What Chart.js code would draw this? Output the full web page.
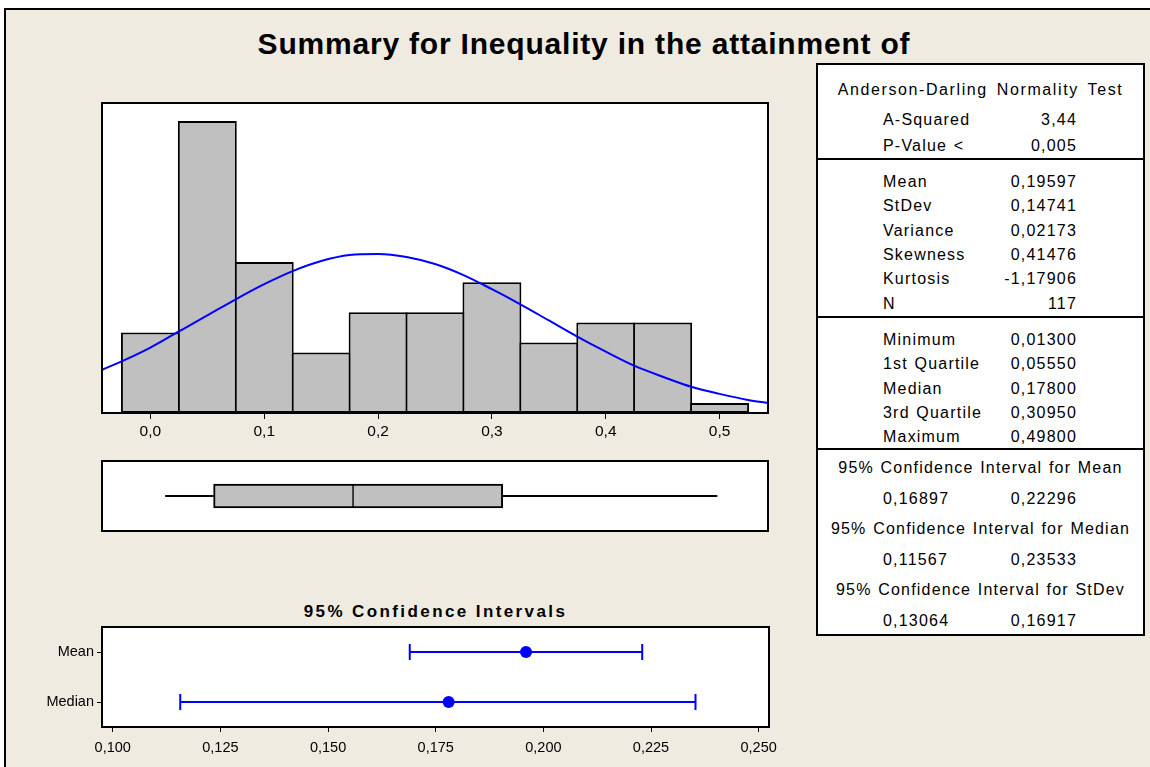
<!DOCTYPE html>
<html>
<head>
<meta charset="utf-8">
<script src="https://cdn.jsdelivr.net/npm/chart.js@4.4.1/dist/chart.umd.min.js"></script>
<style>
  body { margin: 0; width: 1150px; height: 767px; overflow: hidden; background: #fff; position: relative;
         font-family: 'Liberation Sans', Arial, sans-serif; color: #000; }
  #frame { position: absolute; left: 4px; top: 8px; width: 1170px; height: 780px; background: #EFEBE1;
           border-left: 2px solid #000; border-top: 2px solid #000; }
  canvas { position: absolute; left: 0; top: 0; }
  .txt { position: absolute; white-space: pre; }
  #title { left: 0; width: 1168px; top: 29px; text-align: center; font-weight: bold; font-size: 30px;
           line-height: 30px; letter-spacing: 0.8px; }
  #ciTitle { left: 102px; width: 667px; top: 602px; text-align: center; font-weight: bold; font-size: 17px;
             line-height: 20px; letter-spacing: 2.4px; }
  #stats { position: absolute; left: 816px; top: 63px; width: 329px; height: 573px; box-sizing: border-box;
           border: 2px solid #000; background: #fff; }
  .sep { position: absolute; left: 816px; width: 329px; height: 2px; background: #000; }
  .row { font-size: 16px; line-height: 20px; letter-spacing: 1.2px; word-spacing: 1px; }
  .head { letter-spacing: 1.6px; word-spacing: 3px; }
</style>
</head>
<body>
<div id="frame"></div>
<div id="title" class="txt">Summary for Inequality in the attainment of</div>
<div id="ciTitle" class="txt">95% Confidence Intervals</div>
<div id="stats"></div>
<script>
// histogram: bin centres (width 0.05) and counts
const binCenters = [0.00, 0.05, 0.10, 0.15, 0.20, 0.25, 0.30, 0.35, 0.40, 0.45, 0.50];
const binCounts = [8, 29, 15, 6, 10, 10, 13, 7, 9, 9, 1];
// fitted normal curve
const curveX = [-0.0425, -0.02, 0.0, 0.025, 0.05, 0.075, 0.1, 0.125, 0.15, 0.175, 0.2, 0.225, 0.25,
                0.275, 0.3, 0.325, 0.35, 0.375, 0.4, 0.425, 0.45, 0.475, 0.5, 0.525, 0.5425];
const curveY = [4.3, 5.4, 6.5, 8.1, 9.7, 11.3, 12.8, 14.1, 15.1, 15.7, 15.8, 15.5, 14.8,
                13.7, 12.3, 10.8, 9.2, 7.6, 6.1, 4.7, 3.6, 2.6, 1.9, 1.3, 1.0];
const histTicks = [0.0, 0.1, 0.2, 0.3, 0.4, 0.5];

// boxplot: min, q1, median, q3, max
const boxStats = [0.013, 0.0555, 0.178, 0.3095, 0.498];

// 95% confidence intervals
const ciLabels = ['Mean', 'Median'];
const ciCenter = [0.19597, 0.178];
const ciLow = [0.16897, 0.11567];
const ciHigh = [0.22296, 0.23533];
const ciTicks = [0.100, 0.125, 0.150, 0.175, 0.200, 0.225, 0.250];

// summary table
const adTitle = 'Anderson-Darling Normality Test';
const adRows = [['A-Squared', '3,44'], ['P-Value <', '0,005']];
const descRows = [['Mean', '0,19597'], ['StDev', '0,14741'], ['Variance', '0,02173'],
                  ['Skewness', '0,41476'], ['Kurtosis', '-1,17906'], ['N', '117']];
const quartRows = [['Minimum', '0,01300'], ['1st Quartile', '0,05550'], ['Median', '0,17800'],
                   ['3rd Quartile', '0,30950'], ['Maximum', '0,49800']];
const ciRows = [['95% Confidence Interval for Mean', '0,16897', '0,22296'],
                ['95% Confidence Interval for Median', '0,11567', '0,23533'],
                ['95% Confidence Interval for StDev', '0,13064', '0,16917']];

// ---- table text ----
function addText(str, css, extra) {
  const d = document.createElement('div');
  d.className = 'txt row' + (extra ? ' ' + extra : '');
  d.textContent = str;
  Object.assign(d.style, css);
  document.body.appendChild(d);
}
function labelRow(pair, cy) {
  addText(pair[0], { left: '883px', top: (cy - 10) + 'px' });
  addText(pair[1], { right: '73px', top: (cy - 10) + 'px', textAlign: 'right' });
}
function centerRow(str, cy, extra) {
  addText(str, { left: '816px', width: '329px', top: (cy - 10) + 'px', textAlign: 'center' }, extra);
}
centerRow(adTitle, 90, 'head');
adRows.forEach((r, i) => labelRow(r, 120 + i * 26));
descRows.forEach((r, i) => labelRow(r, 182 + i * 24.3));
quartRows.forEach((r, i) => labelRow(r, 340 + i * 24.3));
ciRows.forEach((r, i) => {
  const y = 468 + i * 61;
  centerRow(r[0], y);
  addText(r[1], { left: '883px', top: (y + 31 - 10) + 'px' });
  addText(r[2], { right: '73px', top: (y + 31 - 10) + 'px', textAlign: 'right' });
});
[158, 316, 448].forEach(y => {
  const s = document.createElement('div');
  s.className = 'sep';
  s.style.top = y + 'px';
  document.body.appendChild(s);
});

// ---- charts ----
Chart.defaults.font.family = "'Liberation Sans', Arial, sans-serif";
Chart.defaults.color = '#000';

const framePlugin = {
  id: 'frame',
  beforeDraw(chart) {
    const a = chart.chartArea, ctx = chart.ctx;
    ctx.save();
    ctx.fillStyle = '#fff';
    ctx.fillRect(a.left, a.top, a.right - a.left, a.bottom - a.top);
    ctx.restore();
  },
  afterDraw(chart) {
    const a = chart.chartArea, ctx = chart.ctx;
    ctx.save();
    ctx.strokeStyle = '#000';
    ctx.lineWidth = 2;
    ctx.strokeRect(a.left, a.top, a.right - a.left, a.bottom - a.top);
    ctx.restore();
  }
};

function makeCanvas() {
  const c = document.createElement('canvas');
  c.width = 1150;
  c.height = 767;
  document.body.appendChild(c);
  return c;
}

const baseOpts = {
  responsive: false,
  animation: false,
  devicePixelRatio: 1,
  plugins: { legend: { display: false }, tooltip: { enabled: false } }
};

// histogram with normal fit
new Chart(makeCanvas(), {
  type: 'bar',
  data: {
    datasets: [
      {
        type: 'line',
        data: curveX.map((x, i) => ({ x: x, y: curveY[i] })),
        borderColor: '#0000FF',
        borderWidth: 2,
        pointRadius: 0,
        cubicInterpolationMode: 'monotone',
        order: 0
      },
      {
        type: 'bar',
        data: binCenters.map((x, i) => ({ x: x, y: binCounts[i] })),
        backgroundColor: '#C0C0C0',
        borderColor: '#000',
        borderWidth: 2,
        borderSkipped: false,
        barPercentage: 1.035,
        categoryPercentage: 1,
        order: 1
      }
    ]
  },
  options: {
    ...baseOpts,
    layout: { padding: { left: 102, right: 382, top: 103, bottom: 324 } },
    scales: {
      x: {
        type: 'linear', min: -0.0425, max: 0.5425, offset: false,
        afterBuildTicks: s => { s.ticks = histTicks.map(v => ({ value: v })); },
        afterFit: s => { s.height = 30; },
        grid: { offset: false, drawOnChartArea: false, drawTicks: true, tickLength: 6, color: '#000' },
        border: { display: false },
        ticks: { callback: v => v.toFixed(1).replace('.', ','), font: { size: 15.5 }, padding: 3,
                 maxRotation: 0, autoSkip: false }
      },
      y: { display: false, min: 0, max: 30.8 }
    }
  },
  plugins: [framePlugin]
});

// boxplot
const boxBar = {
  type: 'bar', indexAxis: 'y', backgroundColor: '#C0C0C0', borderColor: '#000',
  borderSkipped: false, barThickness: 24, grouped: false
};
const whisker = { type: 'line', borderColor: '#000', borderWidth: 2, pointRadius: 0 };
new Chart(makeCanvas(), {
  type: 'bar',
  data: {
    datasets: [
      { ...boxBar, borderWidth: { left: 2, right: 1, top: 2, bottom: 2 },
        data: [{ x: [boxStats[1], boxStats[2]], y: 0 }] },
      { ...boxBar, borderWidth: { left: 1, right: 2, top: 2, bottom: 2 },
        data: [{ x: [boxStats[2], boxStats[3]], y: 0 }] },
      { ...whisker, data: [{ x: boxStats[0], y: 0 }, { x: boxStats[1], y: 0 }] },
      { ...whisker, data: [{ x: boxStats[3], y: 0 }, { x: boxStats[4], y: 0 }] }
    ]
  },
  options: {
    ...baseOpts,
    layout: { padding: { left: 102, right: 382, top: 461, bottom: 236 } },
    scales: {
      x: { type: 'linear', display: false, min: -0.0425, max: 0.5425, offset: false },
      y: { type: 'linear', display: false, min: -1, max: 1, offset: false }
    }
  },
  plugins: [framePlugin]
});

// confidence intervals
const ciSets = ciLabels.map((lab, i) => ({
  data: [{ x: ciLow[i], y: i + 1 }, { x: ciHigh[i], y: i + 1 }],
  borderColor: '#0000FF', borderWidth: 2,
  pointStyle: 'line', pointRotation: 90, pointRadius: 8, pointBorderWidth: 2, pointBorderColor: '#0000FF'
}));
ciSets.push({
  data: ciCenter.map((x, i) => ({ x: x, y: i + 1 })),
  showLine: false, pointRadius: 6, pointBackgroundColor: '#0000FF', pointBorderColor: '#0000FF',
  pointBorderWidth: 0
});
new Chart(makeCanvas(), {
  type: 'line',
  data: { datasets: ciSets },
  options: {
    ...baseOpts,
    layout: { padding: { left: 12, right: 381, top: 627, bottom: 10 } },
    scales: {
      x: {
        type: 'linear', min: 0.0975, max: 0.2524,
        afterBuildTicks: s => { s.ticks = ciTicks.map(v => ({ value: v })); },
        afterFit: s => { s.height = 30; },
        grid: { drawOnChartArea: false, drawTicks: true, tickLength: 5, color: '#000' },
        border: { display: false },
        ticks: { callback: v => v.toFixed(3).replace('.', ','), font: { size: 14.5 }, padding: 7,
                 maxRotation: 0, autoSkip: false }
      },
      y: {
        type: 'linear', reverse: true, min: 0.5, max: 2.5,
        afterBuildTicks: s => { s.ticks = ciLabels.map((l, i) => ({ value: i + 1 })); },
        afterFit: s => { s.width = 90; },
        grid: { drawOnChartArea: false, drawTicks: true, tickLength: 5, color: '#000' },
        border: { display: false },
        ticks: { callback: v => ciLabels[Math.round(v) - 1], font: { size: 14.5 }, padding: 3 }
      }
    }
  },
  plugins: [framePlugin]
});
</script>
</body>
</html>
